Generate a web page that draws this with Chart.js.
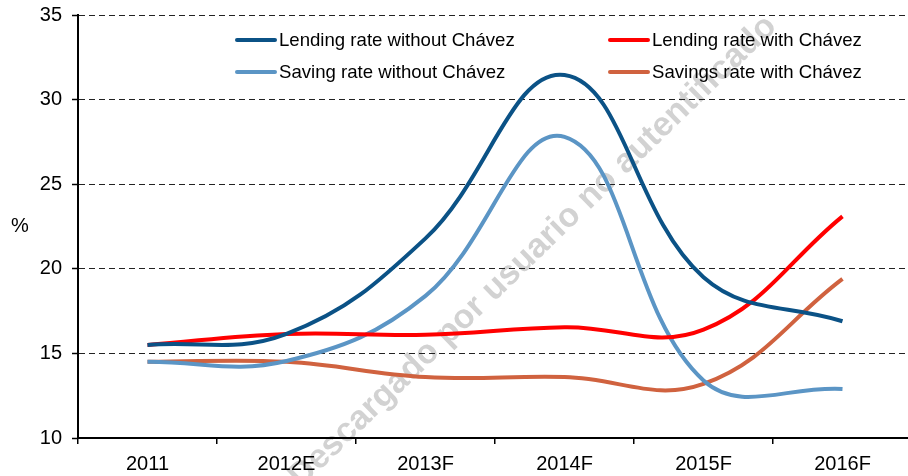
<!DOCTYPE html>
<html lang="en">
<head>
    <meta charset="UTF-8">
    <title>Lending and saving rates with and without Chávez</title>
    <style>
        html, body { margin: 0; padding: 0; background: #fff; }
        canvas { display: block; }
    </style>
</head>
<body>
    <canvas id="myChart" width="908" height="476"></canvas>
    <script src="https://cdn.jsdelivr.net/npm/chart.js"></script>
    <script>
        // values (%)
        const years = ['2011', '2012E', '2013F', '2014F', '2015F', '2016F'];
        const lendingWithout = [15.5, 16.15, 21.8, 31.45, 19.5, 16.9];
        const lendingWith = [15.5, 16.15, 16.1, 16.55, 16.4, 23.1];
        const savingWithout = [14.5, 14.55, 18.4, 27.8, 13.4, 12.9];
        const savingWith = [14.5, 14.5, 13.6, 13.6, 13.2, 19.4];
        const yMin = 10, yMax = 35, yStep = 5;

        const FONT = '"Liberation Sans", Arial, sans-serif';
        const watermark = 'Descargado por usuario no autentificado';

        // legend drawn inside the plot, 2 columns x 2 rows
        const legendSlots = [
            { x: 237, y: 40 }, { x: 610, y: 40 },
            { x: 237, y: 72 }, { x: 610, y: 72 }
        ];

        const extras = {
            id: 'extras',
            afterLayout(chart) {
                // the original plot runs a few px past the right edge
                const x = chart.scales.x;
                x.right += 4;
                x.width += 4;
                x.configure();
            },
            beforeDraw(chart) {
                const ctx = chart.ctx;
                ctx.save();
                ctx.translate(778, 28);
                ctx.rotate(-44 * Math.PI / 180);
                ctx.font = 'bold 34px ' + FONT;
                ctx.fillStyle = '#d2d2d2';
                ctx.textAlign = 'right';
                ctx.textBaseline = 'alphabetic';
                ctx.fillText(watermark, 0, 0);
                ctx.restore();
            },
            afterDraw(chart) {
                const ctx = chart.ctx;
                ctx.save();
                ctx.font = '20px ' + FONT;
                ctx.fillStyle = '#000';
                ctx.textAlign = 'center';
                ctx.textBaseline = 'middle';
                ctx.fillText('%', 20, 226);

                ctx.font = '18.6px ' + FONT;
                ctx.textAlign = 'left';
                chart.data.datasets.forEach((ds, i) => {
                    const s = legendSlots[i];
                    ctx.strokeStyle = ds.borderColor;
                    ctx.lineWidth = 4;
                    ctx.lineCap = 'round';
                    ctx.beginPath();
                    ctx.moveTo(s.x, s.y);
                    ctx.lineTo(s.x + 38, s.y);
                    ctx.stroke();
                    ctx.fillStyle = '#000';
                    ctx.fillText(ds.label, s.x + 42, s.y + 1);
                });
                ctx.restore();
            }
        };

        const line = (label, data, color) => ({
            label, data,
            borderColor: color,
            backgroundColor: color,
            borderWidth: 4,
            pointRadius: 0,
            tension: 0.4,
            fill: false
        });

        new Chart(document.getElementById('myChart'), {
            type: 'line',
            data: {
                labels: years,
                datasets: [
                    line('Lending rate without Chávez', lendingWithout, '#0b5286'),
                    line('Lending rate with Chávez', lendingWith, '#ff0000'),
                    line('Saving rate without Chávez', savingWithout, '#5b95c5'),
                    line('Savings rate with Chávez', savingWith, '#d0623f')
                ]
            },
            options: {
                responsive: false,
                animation: false,
                layout: { padding: 0 },
                plugins: {
                    legend: { display: false },
                    tooltip: { enabled: false }
                },
                scales: {
                    x: {
                        offset: true,
                        afterFit(scale) { scale.height = 38; },
                        grid: { drawOnChartArea: false, drawTicks: true, tickLength: 6, offset: true, color: '#000', lineWidth: 1.5 },
                        border: { display: true, color: '#000', width: 2 },
                        ticks: { color: '#000', padding: 8, font: { family: FONT, size: 20 }, maxRotation: 0 }
                    },
                    y: {
                        min: yMin, max: yMax,
                        afterFit(scale) {
                            scale.width = 78;
                            scale.paddingTop = 15;
                            scale.paddingBottom = 0;
                        },
                        grid: { color: '#222', lineWidth: 1, tickLength: 6, tickColor: '#000', tickBorderDash: [], tickWidth: 1.5 },
                        border: { display: true, color: '#000', width: 2, dash: [6, 4] },
                        ticks: { stepSize: yStep, color: '#000', padding: 10, font: { family: FONT, size: 20 } }
                    }
                }
            },
            plugins: [extras]
        });
    </script>
</body>
</html>
